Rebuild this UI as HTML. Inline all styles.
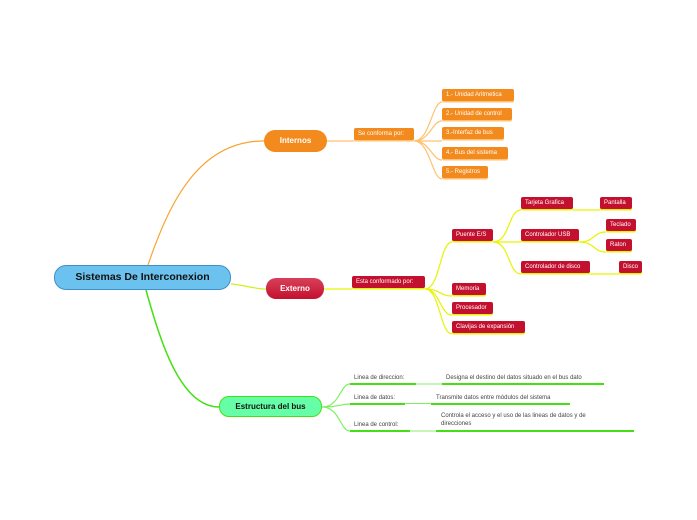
<!DOCTYPE html>
<html><head><meta charset="utf-8"><style>
body{margin:0;width:697px;height:520px;background:#fff;position:relative;overflow:hidden;font-family:"Liberation Sans",sans-serif}
.n{position:absolute;box-sizing:border-box;color:#fff;font-size:6px;line-height:12px;height:12px;padding:0 4px;border-radius:2px;white-space:nowrap}
.o{background:#f28a1d;box-shadow:0 1.5px 0 #ffc070}
.r{background:#c4102f;box-shadow:0 1.5px 0 #e6f500}
.t{position:absolute;font-size:6px;color:#444;white-space:nowrap;line-height:8px}
.u{position:absolute;height:2px;background:#44e015}
.ul{position:absolute;height:2px;background:#c6f5b8}
</style></head><body>
<svg width="697" height="520" style="position:absolute;left:0;top:0">
<g fill="none" stroke-width="1.2">
<path d="M148 265 C170 200 200 141 264 141" stroke="#f7a531"/>
<path d="M327 141 L354 141" stroke="#ffc070"/>
<path d="M414 141 C430 141 432 102 442 102 M414 141 C430 141 432 121 442 121 M414 141 L442 141 M414 141 C430 141 432 160 442 160 M414 141 C430 141 432 179 442 179" stroke="#ffc070"/>
<path d="M231 284 C250 286 255 289 266 289" stroke="#d0ef20"/>
<path d="M324 289 L352 289" stroke="#e6f500"/>
<path d="M425 289 C440 289 440 242 452 242 M425 289 C440 289 440 296 452 296 M425 289 C440 289 440 315 452 315 M425 289 C440 289 440 334 452 334" stroke="#e6f500"/>
<path d="M493 242 C510 242 508 210 521 210 M493 242 L521 242 M493 242 C510 242 508 274 521 274 M573 210 L600 210 M579 242 C595 242 593 232 606 232 M579 242 C595 242 593 252 606 252 M590 274 L619 274" stroke="#e6f500"/>
<path d="M146 290 C160 340 180 407 219 407" stroke="#44e015" stroke-width="1.5"/>
<path d="M322 407 C340 407 340 384 350 384 M322 407 C340 407 340 404 350 404 M322 407 C340 407 340 431 350 431" stroke="#7ef060"/>
</g></svg>
<div style="position:absolute;left:54px;top:265px;width:177px;height:25px;box-sizing:border-box;background:#6cc2ee;border:1px solid #3f8fcc;border-radius:12px;font-weight:bold;font-size:10.5px;line-height:23px;text-align:center;color:#111">Sistemas De Interconexion</div>
<div style="position:absolute;left:264px;top:130px;width:63px;height:22px;background:#f28a1d;border-radius:11px;color:#fff;font-weight:bold;font-size:8px;line-height:22px;text-align:center">Internos</div>
<div style="position:absolute;left:266px;top:278px;width:58px;height:21px;background:linear-gradient(#d8405a,#c4102f);border-radius:10px;color:#fff;font-weight:bold;font-size:8px;line-height:21px;text-align:center">Externo</div>
<div style="position:absolute;left:219px;top:396px;width:103px;height:21px;box-sizing:border-box;background:#66ffa8;border:1px solid #44e015;border-radius:10px;color:#111;font-weight:bold;font-size:8px;line-height:19px;text-align:center">Estructura del bus</div>
<div class="n o" style="left:354px;top:128px;width:60px">Se conforma por:</div>
<div class="n o" style="left:442px;top:89px;width:72px">1.- Unidad Aritmetica</div>
<div class="n o" style="left:442px;top:108px;width:70px">2.- Unidad de control</div>
<div class="n o" style="left:442px;top:127px;width:62px">3.-Interfaz de bus</div>
<div class="n o" style="left:442px;top:147px;width:66px">4.- Bus del sistema</div>
<div class="n o" style="left:442px;top:166px;width:46px">5.- Registros</div>
<div class="n r" style="left:352px;top:276px;width:73px">Esta conformado por:</div>
<div class="n r" style="left:452px;top:229px;width:41px">Puente E/S</div>
<div class="n r" style="left:521px;top:197px;width:52px">Tarjeta Grafica</div>
<div class="n r" style="left:600px;top:197px;width:32px">Pantalla</div>
<div class="n r" style="left:521px;top:229px;width:58px">Controlador USB</div>
<div class="n r" style="left:606px;top:219px;width:30px">Teclado</div>
<div class="n r" style="left:606px;top:239px;width:26px">Raton</div>
<div class="n r" style="left:521px;top:261px;width:69px">Controlador de disco</div>
<div class="n r" style="left:619px;top:261px;width:23px">Disco</div>
<div class="n r" style="left:452px;top:283px;width:34px">Memoria</div>
<div class="n r" style="left:452px;top:302px;width:41px">Procesador</div>
<div class="n r" style="left:452px;top:321px;width:73px">Clavijas de expansión</div>
<div class="t" style="left:354px;top:374px">Linea de direccion:</div>
<div class="u" style="left:350px;top:383px;width:66px"></div><div class="ul" style="left:416px;top:383px;width:26px"></div>
<div class="t" style="left:446px;top:374px">Designa el destino del datos situado en el bus dato</div>
<div class="u" style="left:442px;top:383px;width:162px"></div>
<div class="t" style="left:354px;top:394px">Linea de datos:</div>
<div class="u" style="left:350px;top:403px;width:55px"></div><div class="ul" style="left:405px;top:403px;width:26px;background:#7ef060;height:1px"></div>
<div class="t" style="left:436px;top:394px">Transmite datos entre módulos del sistema</div>
<div class="u" style="left:431px;top:403px;width:139px"></div>
<div class="t" style="left:354px;top:421px">Linea de control:</div>
<div class="u" style="left:350px;top:430px;width:60px"></div><div class="ul" style="left:410px;top:430px;width:26px"></div>
<div class="t" style="left:441px;top:412px">Controla el acceso y el uso de las lineas de datos y de<br>direcciones</div>
<div class="u" style="left:436px;top:430px;width:198px"></div>
</body></html>
